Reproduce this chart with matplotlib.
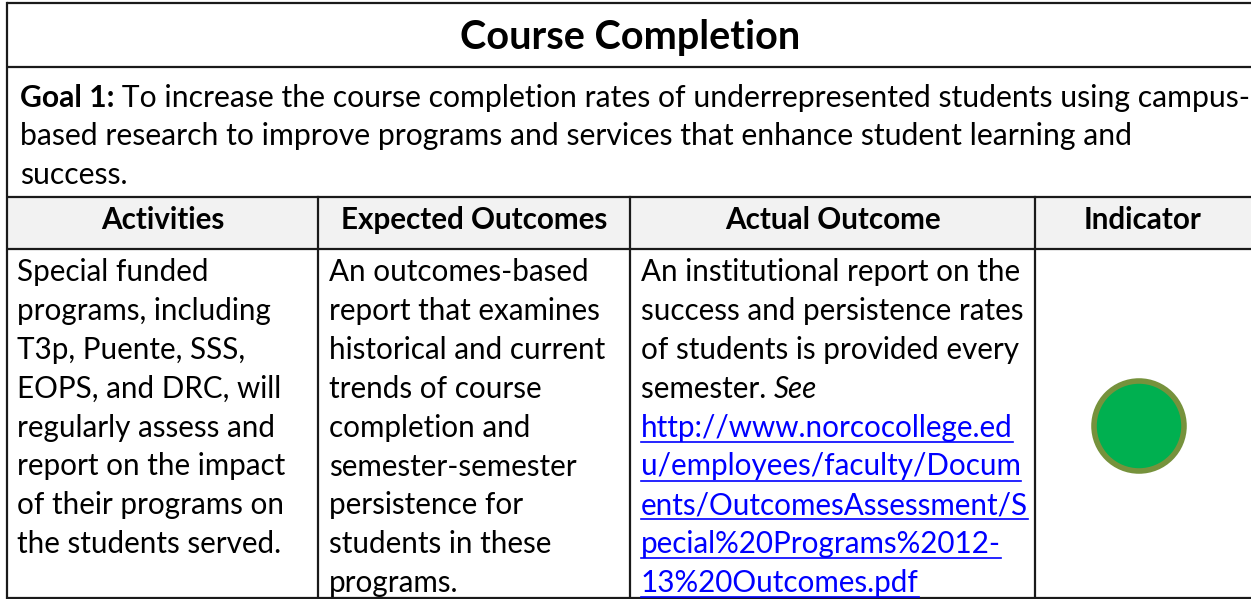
import matplotlib
matplotlib.use("Agg")
import matplotlib.pyplot as plt
from matplotlib.patches import Rectangle, Circle

plt.rcParams['font.family'] = ['Lato', 'DejaVu Sans']

W, H = 1251, 599

title = "Course Completion"
goal_label = "Goal 1:"
goal_lines = [" To increase the course completion rates of underrepresented students using campus-",
              "based research to improve programs and services that enhance student learning and",
              "success."]
headers = ["Activities", "Expected Outcomes", "Actual Outcome", "Indicator"]
activities = ["Special funded", "programs, including", "T3p, Puente, SSS,",
              "EOPS, and DRC, will", "regularly assess and", "report on the impact",
              "of their programs on", "the students served."]
expected = ["An outcomes-based", "report that examines", "historical and current",
            "trends of course", "completion and", "semester-semester",
            "persistence for", "students in these", "programs."]
actual = ["An institutional report on the", "success and persistence rates",
          "of students is provided every", "semester. "]
actual_see = "See"
link = ["http://www.norcocollege.ed", "u/employees/faculty/Docum",
        "ents/OutcomesAssessment/S", "pecial%20Programs%2012-",
        "13%20Outcomes.pdf"]
indicator_status = "green"

# layout (pixels)
col_x = [7, 318, 630, 1035, 1260]
row_y = [3, 67, 197, 249, 598]
line_h = 38.9
body_top = 272
fs_body = 21.3
fs_goal = 21.7
fs_title = 28.5

fig = plt.figure(figsize=(W / 100, H / 100), dpi=100)
ax = fig.add_axes([0, 0, 1, 1])
ax.set_xlim(0, W)
ax.set_ylim(H, 0)
ax.axis('off')

# header fill
ax.add_patch(Rectangle((col_x[0], row_y[2]), col_x[-1] - col_x[0], row_y[3] - row_y[2],
                       facecolor='#f2f2f2', edgecolor='none'))
lc = '#1a1a1a'
lw = 1.6
for y in row_y:
    ax.plot([col_x[0], col_x[-1]], [y, y], color=lc, lw=lw, solid_capstyle='butt')
ax.plot([col_x[0], col_x[0]], [row_y[0], row_y[-1]], color=lc, lw=lw)
for x in col_x[1:-1]:
    ax.plot([x, x], [row_y[2], row_y[-1]], color=lc, lw=lw)

ax.text(630, 38, title, ha='center', va='center', fontsize=fs_title, fontweight='bold')

fig.canvas.draw()
r = fig.canvas.get_renderer()

def width_px(t):
    return t.get_window_extent(renderer=r).width

gy = [98, 136, 175]
tb = ax.text(20, gy[0], goal_label, ha='left', va='center', fontsize=fs_goal, fontweight='bold')
bw = width_px(tb)
ax.text(20 + bw, gy[0], goal_lines[0], ha='left', va='center', fontsize=fs_goal)
for y, s in zip(gy[1:], goal_lines[1:]):
    ax.text(20, y, s, ha='left', va='center', fontsize=fs_goal)

for i, h in enumerate(headers):
    ax.text((col_x[i] + col_x[i + 1]) / 2 if i < 3 else 1143, 220, h,
            ha='center', va='center', fontsize=fs_body, fontweight='bold')

for i, s in enumerate(activities):
    ax.text(17, body_top + i * line_h, s, ha='left', va='center', fontsize=fs_body)
for i, s in enumerate(expected):
    ax.text(329, body_top + i * line_h, s, ha='left', va='center', fontsize=fs_body)
for i, s in enumerate(actual):
    t = ax.text(641, body_top + i * line_h, s, ha='left', va='center', fontsize=fs_body)
sw = width_px(t)
ax.text(641 + sw, body_top + 3 * line_h, actual_see, ha='left', va='center',
        fontsize=fs_body, style='italic')
for i, s in enumerate(link):
    y = body_top + (4 + i) * line_h
    t = ax.text(641, y, s, ha='left', va='center', fontsize=fs_body, color='#0000ff')
    ax.plot([641, 641 + width_px(t)], [y + 14, y + 14], color='#0000ff', lw=1.2)

colors = {"green": "#00b050"}
ax.add_patch(Circle((1139, 426), 45, facecolor=colors[indicator_status],
                    edgecolor='#76923c', lw=4))

fig.savefig('out.png', dpi=100)
